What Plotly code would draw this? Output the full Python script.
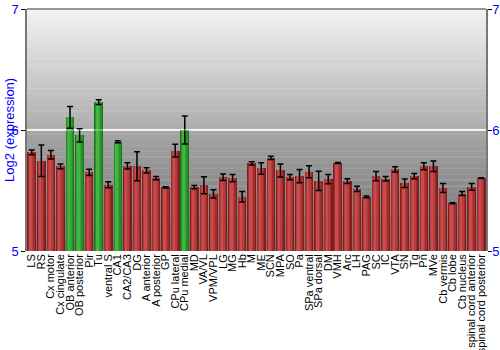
import plotly.graph_objects as go

regions = ["LS", "RS", "Cx motor", "Cx cingulate", "OB anterior", "OB posterior", "Pir", "Tu",
           "ventral S", "CA1", "CA2/CA3", "DG", "A anterior", "A posterior", "GP", "CPu lateral",
           "CPu medial", "MD", "VA/VL", "VPM/VPL", "LG", "MG", "Hb", "M", "ME", "SCN", "MPA", "SO",
           "Pa", "SPa ventral", "SPa dorsal", "DM", "VMH", "Arc", "LH", "PAG", "SC", "IC", "VTA",
           "SN", "Tg", "Pn", "MVe", "Cb vermis", "Cb lobe", "Cb nucleus",
           "spinal cord anterior", "spinal cord posterior"]
expression = [5.815, 5.746, 5.796, 5.70, 6.105, 5.956, 5.65, 6.23,
              5.547, 5.903, 5.704, 5.70, 5.666, 5.602, 5.525, 5.83,
              6.0, 5.528, 5.544, 5.472, 5.61, 5.602, 5.448, 5.724, 5.682, 5.77, 5.666, 5.61,
              5.619, 5.655, 5.58, 5.594, 5.727, 5.577, 5.514, 5.448, 5.619, 5.597, 5.674,
              5.56, 5.619, 5.70, 5.70, 5.52, 5.395, 5.475,
              5.53, 5.602]
error = [0.02, 0.13, 0.035, 0.02, 0.09, 0.055, 0.025, 0.02,
         0.025, 0.008, 0.026, 0.12, 0.022, 0.014, 0.005, 0.053,
         0.115, 0.014, 0.07, 0.035, 0.027, 0.03, 0.043, 0.013, 0.047, 0.014, 0.054, 0.022,
         0.055, 0.05, 0.08, 0.039, 0.004, 0.02, 0.022, 0.007, 0.039, 0.018, 0.022,
         0.036, 0.022, 0.029, 0.044, 0.037, 0.004, 0.017,
         0.028, 0.003]
highlighted = ["OB anterior", "OB posterior", "Tu", "CA1", "CPu medial"]
y_ticks = [5, 6, 7]

def colors(red, green):
    return [green if r in highlighted else red for r in regions]

fig = go.Figure()

# background gradient
shapes = []
n = 200
for i in range(n):
    y0 = 5 + 2 * i / n
    y1 = 5 + 2 * (i + 1) / n
    ym = (y0 + y1) / 2
    if ym >= 6:
        g = 172 + (ym - 6) * (243 - 172)
    else:
        g = 112 + (ym - 5) * (165 - 112)
    g = int(round(g))
    shapes.append(dict(type="rect", xref="paper", yref="y", x0=0, x1=1, y0=y0, y1=y1 + 0.004,
                       fillcolor=f"rgb({g},{g},{g})", line=dict(width=0), layer="below"))
shapes.append(dict(type="line", xref="paper", yref="y", x0=0, x1=1, y0=6, y1=6,
                   line=dict(color="#f0f0f0", width=2), layer="below"))
shapes.append(dict(type="line", xref="paper", yref="y", x0=0, x1=1, y0=6, y1=6,
                   line=dict(color="rgba(255,255,255,0.3)", width=2), layer="above"))
shapes.append(dict(type="line", xref="paper", yref="paper", x0=0, x1=1, y0=1, y1=1,
                   line=dict(color="#777777", width=1.5), layer="above"))

layers = [
    (0.9, -0.45, "#7e1e1e", "#1e731e"),
    (0.72, -0.4, "#a02c2c", "#289028"),
    (0.5, -0.33, "#b83c3c", "#34a534"),
    (0.25, -0.25, "#c84c4c", "#42b542"),
]
for w, off, rc, gc in layers:
    fig.add_trace(go.Bar(x=regions, y=expression, width=w, offset=off,
                         marker=dict(color=colors(rc, gc), line=dict(width=0)),
                         hoverinfo="skip", showlegend=False))

fig.add_trace(go.Scatter(x=regions, y=expression, mode="markers",
                         marker=dict(size=1, opacity=0),
                         error_y=dict(type="data", array=error, color="black",
                                      thickness=1.5, width=3),
                         showlegend=False, hoverinfo="skip"))
fig.add_trace(go.Scatter(x=[regions[0]], y=[y_ticks[0]], yaxis="y2", mode="markers",
                         marker=dict(size=1, opacity=0), showlegend=False, hoverinfo="skip"))

fig.add_annotation(text="Log2 (expression)", textangle=-90, xref="paper", yref="paper",
                   x=-0.058, y=0.5, xanchor="left", yanchor="middle", showarrow=False,
                   borderpad=0, font=dict(size=13, color="blue"))

fig.update_layout(
    width=500, height=350,
    margin=dict(l=27, r=14, t=9, b=99),
    paper_bgcolor="white", plot_bgcolor="rgba(0,0,0,0)",
    barmode="overlay", bargap=0,
    font=dict(family="Liberation Sans, Arial, sans-serif"),
    shapes=shapes,
    xaxis=dict(tickmode="array", tickvals=regions, ticktext=regions,
               tickangle=-90, tickfont=dict(size=11, color="black"), showgrid=False,
               ticks="", showline=False, zeroline=False, range=[-0.5, len(regions) - 0.5],
               automargin=False),
    yaxis=dict(range=[5, 7], tickvals=y_ticks, ticks="outside", ticklen=4, tickcolor="black",
               tickfont=dict(size=13, color="blue"), showgrid=False, zeroline=False,
               showline=True, linecolor="#777777", linewidth=1.5, automargin=False,
               ticklabelstandoff=0),
    yaxis2=dict(range=[5, 7], tickvals=y_ticks, ticks="outside", ticklen=4, tickcolor="black",
                tickfont=dict(size=13, color="blue"), showgrid=False, zeroline=False,
                showline=True, linecolor="#777777", linewidth=1.5, automargin=False,
                ticklabelstandoff=-2, overlaying="y", side="right"),
)

fig.write_html("out.html")
